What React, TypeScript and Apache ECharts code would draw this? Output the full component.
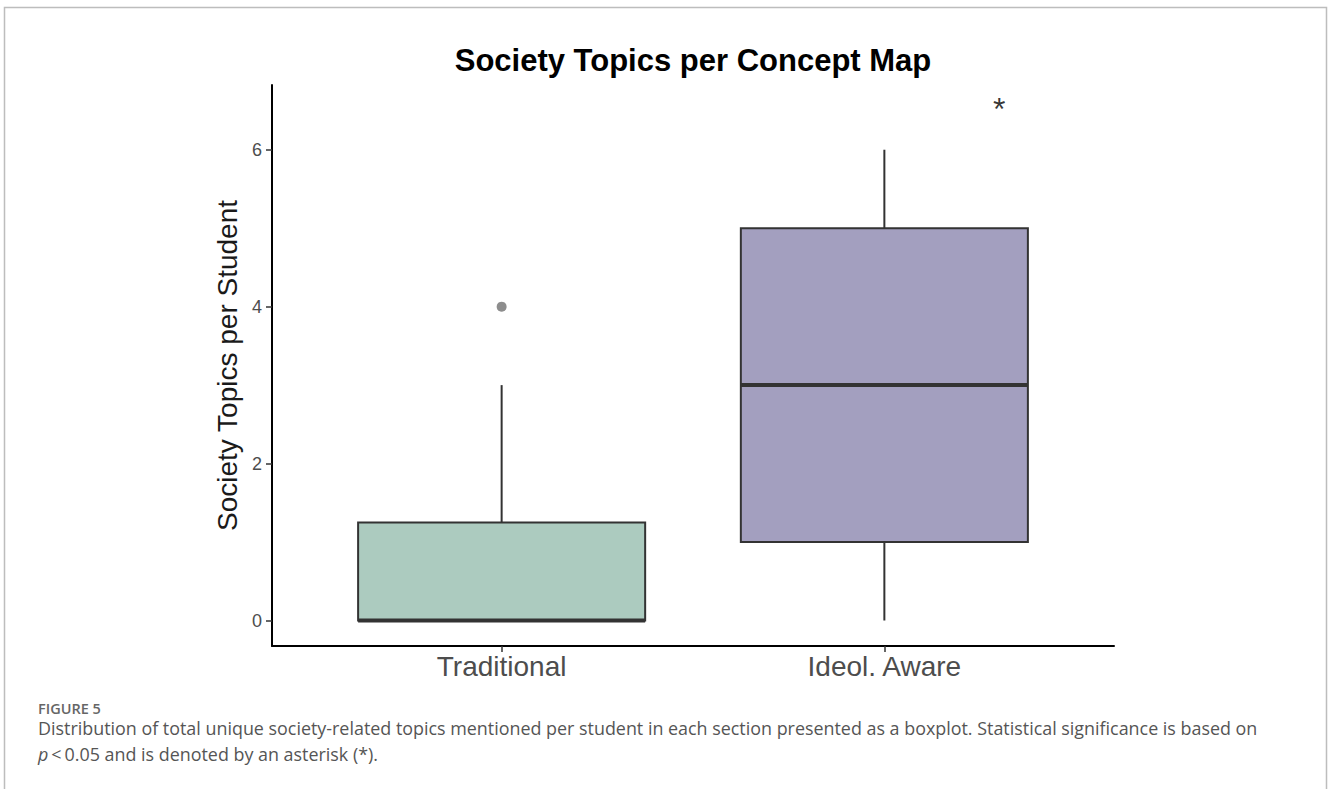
import React, { useEffect, useRef } from "react";
import * as echarts from "echarts";

const categories = ["Traditional", "Ideol. Aware"];
const categoryPositions = [1, 2];
// [min, Q1, median, Q3, max]
const boxStats = [
  [0, 0, 0, 1.25, 3],
  [0, 1, 3, 5, 6],
];
const boxColors = ["#accbbf", "#a39fbf"];
const outliers = [[1, 4]];
const significance = [[2.3, 6.5]];
const yTicks = [0, 2, 4, 6];
const titleText = "Society Topics per Concept Map";
const yName = "Society Topics per Student";
const figureLabel = "FIGURE 5";
const captionLine1 =
  "Distribution of total unique society-related topics mentioned per student in each section presented as a boxplot. Statistical significance is based on";
const captionLine2 = "{i|p}\u2009<\u20090.05 and is denoted by an asterisk (*).";

const plotFont = "'Liberation Sans', Arial, sans-serif";
const captionFont = "'Open Sans', 'Noto Sans', sans-serif";

export default function App() {
  const ref = useRef<HTMLDivElement>(null);
  useEffect(() => {
    if (!ref.current) return;
    const chart = echarts.init(ref.current, null, { renderer: "svg" });
    const boxData = categoryPositions.map((x, i) => [x, ...boxStats[i]]);
    chart.setOption({
      animation: false,
      backgroundColor: "#ffffff",
      grid: { left: 272, top: 85, width: 842, height: 561, containLabel: false },
      xAxis: {
        type: "value",
        min: 0.4,
        max: 2.6,
        axisLine: { show: true, onZero: false, lineStyle: { color: "#000", width: 2 } },
        axisTick: {
          show: true,
          customValues: categoryPositions,
          length: 6,
          lineStyle: { color: "#333", width: 1.5 },
        },
        axisLabel: {
          customValues: categoryPositions,
          formatter: (v: number) => categories[categoryPositions.indexOf(Math.round(v))] ?? "",
          fontSize: 28,
          color: "#4d4d4d",
          fontFamily: plotFont,
          margin: 6,
        },
        splitLine: { show: false },
      },
      yAxis: {
        type: "value",
        min: -0.325,
        max: 6.825,
        name: yName,
        nameLocation: "middle",
        nameGap: 30,
        nameTextStyle: { fontSize: 28, color: "#1a1a1a", fontFamily: plotFont },
        axisLine: { show: true, onZero: false, lineStyle: { color: "#000", width: 2 } },
        axisTick: {
          show: true,
          customValues: yTicks,
          length: 6,
          lineStyle: { color: "#333", width: 1.5 },
        },
        axisLabel: {
          customValues: yTicks,
          fontSize: 18,
          color: "#4d4d4d",
          fontFamily: plotFont,
          margin: 10,
        },
        splitLine: { show: false },
      },
      series: [
        {
          type: "custom",
          data: boxData,
          encode: { x: 0, y: [1, 2, 3, 4, 5] },
          renderItem: (params: any, api: any) => {
            const x = api.value(0);
            const pLo = api.coord([x, api.value(1)]);
            const pQ1 = api.coord([x, api.value(2)]);
            const pMed = api.coord([x, api.value(3)]);
            const pQ3 = api.coord([x, api.value(4)]);
            const pHi = api.coord([x, api.value(5)]);
            const w = api.size([0.75, 0])[0];
            const cx = pLo[0];
            const stroke = "#333333";
            return {
              type: "group",
              children: [
                {
                  type: "line",
                  shape: { x1: cx, y1: pHi[1], x2: cx, y2: pQ3[1] },
                  style: { stroke, lineWidth: 2 },
                },
                {
                  type: "line",
                  shape: { x1: cx, y1: pQ1[1], x2: cx, y2: pLo[1] },
                  style: { stroke, lineWidth: 2 },
                },
                {
                  type: "rect",
                  shape: { x: cx - w / 2, y: pQ3[1], width: w, height: pQ1[1] - pQ3[1] },
                  style: { fill: boxColors[params.dataIndex], stroke, lineWidth: 2 },
                },
                {
                  type: "line",
                  shape: { x1: cx - w / 2, y1: pMed[1], x2: cx + w / 2, y2: pMed[1] },
                  style: { stroke, lineWidth: 4 },
                },
              ],
            };
          },
          z: 2,
        },
        {
          type: "scatter",
          data: outliers,
          symbol: "circle",
          symbolSize: 10,
          itemStyle: { color: "#707070" },
          z: 3,
        },
        {
          type: "scatter",
          data: significance,
          symbolSize: 0,
          label: {
            show: true,
            position: "inside",
            formatter: "*",
            fontSize: 32,
            color: "#000",
            fontFamily: plotFont,
            offset: [0, -2],
          },
          z: 3,
        },
      ],
      graphic: [
        {
          type: "rect",
          shape: { x: 4.5, y: 7.5, width: 1322, height: 820 },
          style: { fill: "none", stroke: "#bdbdbd", lineWidth: 1.5 },
          silent: true,
        },
        {
          type: "text",
          x: 693,
          y: 60,
          style: {
            text: titleText,
            fontSize: 31,
            fontWeight: "bold",
            fill: "#000",
            fontFamily: plotFont,
            textAlign: "center",
            textVerticalAlign: "middle",
          },
        },
        {
          type: "text",
          x: 38,
          y: 708,
          style: {
            text: figureLabel,
            fontSize: 14.5,
            fontWeight: 600,
            fill: "#666",
            fontFamily: captionFont,
            textAlign: "left",
            textVerticalAlign: "middle",
          },
        },
        {
          type: "text",
          x: 38,
          y: 728,
          style: {
            text: captionLine1,
            fontSize: 17.9,
            fill: "#555",
            fontFamily: captionFont,
            textAlign: "left",
            textVerticalAlign: "middle",
          },
        },
        {
          type: "text",
          x: 38,
          y: 754,
          style: {
            text: captionLine2,
            fontSize: 17.9,
            fill: "#555",
            fontFamily: captionFont,
            textAlign: "left",
            textVerticalAlign: "middle",
            rich: { i: { fontStyle: "italic", fontSize: 17.9, fill: "#555", fontFamily: captionFont } },
          },
        },
      ],
    });
    return () => chart.dispose();
  }, []);
  return (
    <div
      ref={ref}
      style={{ position: "fixed", left: 0, top: 0, width: 1328, height: 789, background: "#fff" }}
    />
  );
}
